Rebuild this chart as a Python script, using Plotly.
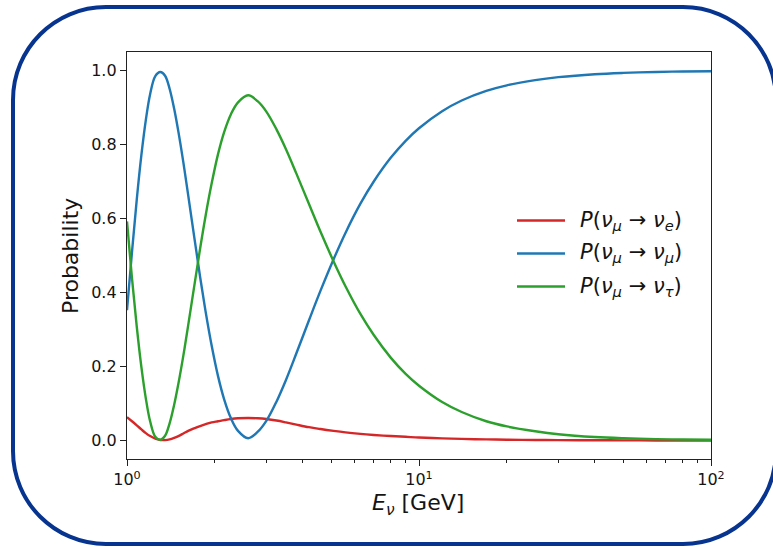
import plotly.graph_objects as go

# Neutrino energy grid [GeV]
energy_gev = [1.00, 1.04, 1.08, 1.12, 1.16, 1.20, 1.25, 1.30, 1.35, 1.40,
              1.45, 1.50, 1.56, 1.62, 1.70, 1.78, 1.86, 1.95, 2.05, 2.15,
              2.27, 2.40, 2.60, 2.80, 3.00, 3.25, 3.50, 3.80, 4.20, 4.60,
              5.10, 5.60, 6.30, 7.00, 8.00, 9.00, 10.0, 12.0, 14.0, 17.0,
              20.0, 25.0, 30.0, 40.0, 50.0, 65.0, 80.0, 100.0]

# P(nu_mu -> nu_e)
p_mu_e = [0.063, 0.052, 0.041, 0.030, 0.020, 0.012, 0.005, 0.0015, 0.001, 0.003,
          0.007, 0.012, 0.019, 0.026, 0.033, 0.039, 0.044, 0.049, 0.052, 0.055,
          0.058, 0.060, 0.061, 0.060, 0.058, 0.054, 0.049, 0.043, 0.036, 0.031,
          0.026, 0.022, 0.018, 0.015, 0.012, 0.010, 0.008, 0.0058, 0.0043, 0.003,
          0.0022, 0.0014, 0.001, 0.0006, 0.0004, 0.0002, 0.0001, 0.0001]

# P(nu_mu -> nu_mu)
p_mu_mu = [0.352, 0.509, 0.651, 0.771, 0.866, 0.936, 0.985, 0.996, 0.986, 0.950,
           0.897, 0.834, 0.751, 0.663, 0.549, 0.442, 0.347, 0.256, 0.174, 0.112,
           0.060, 0.026, 0.006, 0.023, 0.053, 0.105, 0.163, 0.235, 0.325, 0.405,
           0.490, 0.561, 0.640, 0.700, 0.764, 0.810, 0.844, 0.890, 0.919, 0.945,
           0.960, 0.974, 0.982, 0.990, 0.9935, 0.996, 0.9974, 0.998]

# P(nu_mu -> nu_tau)
p_mu_tau = [0.592, 0.439, 0.308, 0.199, 0.114, 0.052, 0.010, 0.002, 0.013, 0.047,
            0.096, 0.154, 0.230, 0.311, 0.418, 0.519, 0.609, 0.695, 0.774, 0.833,
            0.882, 0.914, 0.933, 0.917, 0.889, 0.841, 0.788, 0.722, 0.639, 0.564,
            0.484, 0.417, 0.342, 0.285, 0.224, 0.180, 0.148, 0.104, 0.077, 0.052,
            0.038, 0.025, 0.017, 0.0094, 0.0061, 0.0038, 0.0025, 0.0019]

series_names = ["P(ν<sub>μ</sub> → ν<sub>e</sub>)",
                "P(ν<sub>μ</sub> → ν<sub>μ</sub>)",
                "P(ν<sub>μ</sub> → ν<sub>τ</sub>)"]
legend_labels = ["<i>P</i>(<i>ν</i><sub><i>μ</i></sub> → <i>ν</i><sub><i>e</i></sub>)",
                 "<i>P</i>(<i>ν</i><sub><i>μ</i></sub> → <i>ν</i><sub><i>μ</i></sub>)",
                 "<i>P</i>(<i>ν</i><sub><i>μ</i></sub> → <i>ν</i><sub><i>τ</i></sub>)"]
series_colors = ["#d62728", "#1f77b4", "#2ca02c"]

x_tick_vals = [1, 10, 100]
x_tick_text = ["10<sup>0</sup>", "10<sup>1</sup>", "10<sup>2</sup>"]
x_minor_vals = [2, 3, 4, 5, 6, 7, 8, 9, 20, 30, 40, 50, 60, 70, 80, 90]
y_tick_vals = [0.0, 0.2, 0.4, 0.6, 0.8, 1.0]

W, H = 773, 547
ML, MR, MT, MB = 127, 62, 52, 88
PW, PH = W - ML - MR, H - MT - MB


def px(xp):
    return (xp - ML) / PW


def py(yp):
    return (H - MB - yp) / PH


FONT = "DejaVu Sans"
TEXT = "#141414"
fig = go.Figure()

for ys, name, col in zip([p_mu_e, p_mu_mu, p_mu_tau], series_names, series_colors):
    fig.add_trace(go.Scatter(
        x=energy_gev, y=ys, mode="lines", name=name,
        line=dict(color=col, width=2.4, shape="spline", smoothing=1.0),
        showlegend=False,
    ))

# Legend drawn as line samples plus labels
shapes = []
annotations = []
legend_rows = [220.5, 253.5, 286.5]
for row, lab, col in zip(legend_rows, legend_labels, series_colors):
    shapes.append(dict(type="line", xref="paper", yref="paper",
                       x0=px(517), x1=px(565), y0=py(row), y1=py(row),
                       line=dict(color=col, width=2.4)))
    annotations.append(dict(xref="paper", yref="paper", x=px(578), y=py(row),
                            xanchor="left", yanchor="middle", showarrow=False,
                            text=lab, font=dict(family=FONT, size=21, color=TEXT)))

# Axis titles
annotations.append(dict(xref="paper", yref="paper", x=px(71), y=py(256),
                        xanchor="center", yanchor="middle", showarrow=False,
                        textangle=-90, text="Probability",
                        font=dict(family=FONT, size=22, color=TEXT)))
annotations.append(dict(xref="paper", yref="paper", x=px(418), y=py(504),
                        xanchor="center", yanchor="middle", showarrow=False,
                        text="<i>E</i><sub><i>ν</i></sub> [GeV]",
                        font=dict(family=FONT, size=22, color=TEXT)))

# Rounded frame around the figure
X0, X1, Y0, Y1, R = 13, 776, 7, 544, 93
K = 0.5523 * R


def P(a, b):
    return f"{px(a):.5f},{py(b):.5f}"


frame_path = (
    f"M {P(X0 + R, Y0)} L {P(X1 - R, Y0)} "
    f"C {P(X1 - R + K, Y0)} {P(X1, Y0 + R - K)} {P(X1, Y0 + R)} "
    f"L {P(X1, Y1 - R)} "
    f"C {P(X1, Y1 - R + K)} {P(X1 - R + K, Y1)} {P(X1 - R, Y1)} "
    f"L {P(X0 + R, Y1)} "
    f"C {P(X0 + R - K, Y1)} {P(X0, Y1 - R + K)} {P(X0, Y1 - R)} "
    f"L {P(X0, Y0 + R)} "
    f"C {P(X0, Y0 + R - K)} {P(X0 + R - K, Y0)} {P(X0 + R, Y0)} Z"
)
shapes.append(dict(type="path", xref="paper", yref="paper", path=frame_path,
                   line=dict(color="#06348f", width=4), fillcolor="rgba(0,0,0,0)"))

axis_common = dict(
    showgrid=False, zeroline=False, showline=True, linecolor="#222222",
    linewidth=1.3, mirror=True, ticks="outside", ticklen=6, tickwidth=1.2,
    tickcolor="#222222", tickfont=dict(family=FONT, size=16, color=TEXT),
)

fig.update_layout(
    width=W, height=H,
    margin=dict(l=ML, r=MR, t=MT, b=MB),
    paper_bgcolor="white", plot_bgcolor="white",
    showlegend=False,
    shapes=shapes, annotations=annotations,
    xaxis=dict(type="log", range=[0, 2], tickmode="array",
               tickvals=x_tick_vals, ticktext=x_tick_text,
               minor=dict(tickmode="array", tickvals=x_minor_vals, ticks="outside",
                          ticklen=3, tickwidth=1, tickcolor="#222222"),
               **axis_common),
    yaxis=dict(range=[-0.05, 1.05], tickmode="array", tickvals=y_tick_vals,
               ticktext=[f"{v:.1f}" for v in y_tick_vals], **axis_common),
)

fig.write_html("out.html")
